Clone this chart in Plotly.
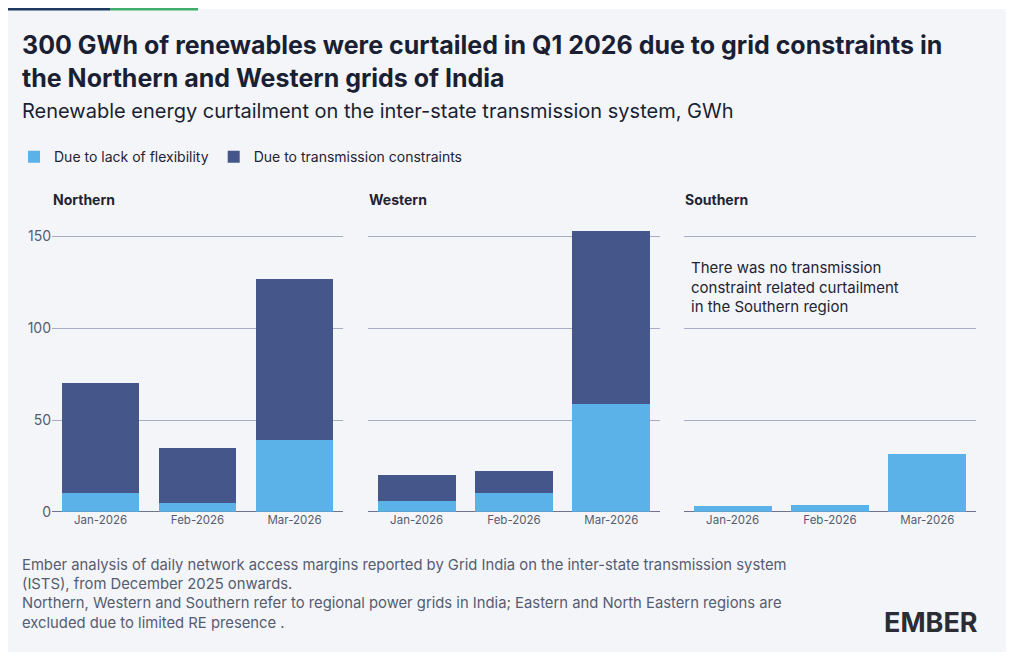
import plotly.graph_objects as go

months = ["Jan-2026", "Feb-2026", "Mar-2026"]
regions = ["Northern", "Western", "Southern"]
flex = {"Northern": [10, 5, 39], "Western": [6, 10, 58.5], "Southern": [3.3, 3.5, 31.7]}
trans = {"Northern": [60, 29.5, 88], "Western": [14, 12.5, 94.5], "Southern": [0, 0, 0]}

W, H = 1014, 659
OFFX, OFFY = 8, 0
def px(x): return (x - OFFX) / W
def py(y): return (H - (y - OFFY)) / H

C_FLEX = "#5bb2e9"
C_TRANS = "#45578a"
fig = go.Figure()
doms = [(52, 343), (368, 660), (684, 976)]
for i, r in enumerate(regions):
    ax = "" if i == 0 else str(i + 1)
    fig.add_bar(x=months, y=flex[r], marker_color=C_FLEX, name="Due to lack of flexibility",
                xaxis="x" + ax, yaxis="y" + ax, showlegend=(i == 0), width=0.8,
                marker_line_width=0, legendgroup="f")
    fig.add_bar(x=months, y=trans[r], marker_color=C_TRANS, name="Due to transmission constraints",
                xaxis="x" + ax, yaxis="y" + ax, showlegend=(i == 0), width=0.8,
                marker_line_width=0, legendgroup="t")
    d = doms[i]
    fig.update_layout(**{
        "xaxis" + ax: dict(domain=[px(d[0]), px(d[1])], anchor="y" + ax, showgrid=False,
                           tickfont=dict(size=11.5, color="#555c70"), ticks="", showline=False),
        "yaxis" + ax: dict(domain=[py(510), py(222)], anchor="x" + ax, range=[0, 155],
                           tickvals=[0, 50, 100, 150], showticklabels=(i == 0),
                           gridcolor="#a9adc2", gridwidth=1, zeroline=True, zerolinecolor="#6f7489",
                           zerolinewidth=1, tickfont=dict(size=14, color="#555c70"), ticksuffix="  "),
    })
    fig.add_annotation(text="<b>" + r + "</b>", x=px(d[0] - 1), y=py(194), xref="paper", yref="paper",
                       xanchor="left", yanchor="middle", showarrow=False, font=dict(size=14, color="#1f2333"))

fig.add_annotation(text="There was no transmission<br>constraint related curtailment<br>in the Southern region",
                   x=px(689), y=py(251), xref="paper", yref="paper", xanchor="left", yanchor="top",
                   align="left", showarrow=False, font=dict(size=15, color="#1f2333"))

fig.add_annotation(text="<b>300 GWh of renewables were curtailed in Q1 2026 due to grid constraints in<br>the Northern and Western grids of India</b>",
                   x=px(20), y=py(20), xref="paper", yref="paper", xanchor="left", yanchor="top",
                   align="left", showarrow=False, font=dict(size=25, color="#1a1f33"))
fig.add_annotation(text="Renewable energy curtailment on the inter-state transmission system, GWh",
                   x=px(20), y=py(104), xref="paper", yref="paper", xanchor="left", yanchor="middle",
                   showarrow=False, font=dict(size=20, color="#1a1f33"))
fig.add_annotation(text="Ember analysis of daily network access margins reported by Grid India on the inter-state transmission system<br>(ISTS), from December 2025 onwards.<br>Northern, Western and Southern refer to regional power grids in India; Eastern and North Eastern regions are<br>excluded due to limited RE presence .",
                   x=px(20), y=py(553), xref="paper", yref="paper", xanchor="left", yanchor="top",
                   align="left", showarrow=False, font=dict(size=14.8, color="#555c70"))
fig.add_annotation(text="<b>EMBER</b>", x=px(980), y=py(622), xref="paper", yref="paper",
                   xanchor="right", yanchor="middle", showarrow=False,
                   font=dict(size=27, color="#2a2d36", family="Inter"))

fig.update_layout(
    width=W, height=H, barmode="stack", bargap=0.2,
    margin=dict(l=0, r=0, t=0, b=0),
    paper_bgcolor="white", plot_bgcolor="rgba(0,0,0,0)",
    font=dict(family="Inter, Noto Sans, sans-serif", color="#1f2333"),
    legend=dict(orientation="h", x=px(14), y=py(151), xanchor="left", yanchor="middle",
                font=dict(size=14, color="#1f2333"), bgcolor="rgba(0,0,0,0)", itemwidth=30,
                traceorder="normal"),
    shapes=[
        dict(type="rect", xref="paper", yref="paper", x0=px(8), x1=px(1006), y0=py(652), y1=py(1),
             fillcolor="#f4f5f9", line_width=0, layer="below"),
        dict(type="line", xref="paper", yref="paper", x0=px(8), x1=px(110), y0=py(1), y1=py(1),
             line=dict(color="#1f3a5f", width=3)),
        dict(type="line", xref="paper", yref="paper", x0=px(110), x1=px(198), y0=py(1), y1=py(1),
             line=dict(color="#3fae6a", width=3)),
    ],
)
fig.write_html("out.html")
